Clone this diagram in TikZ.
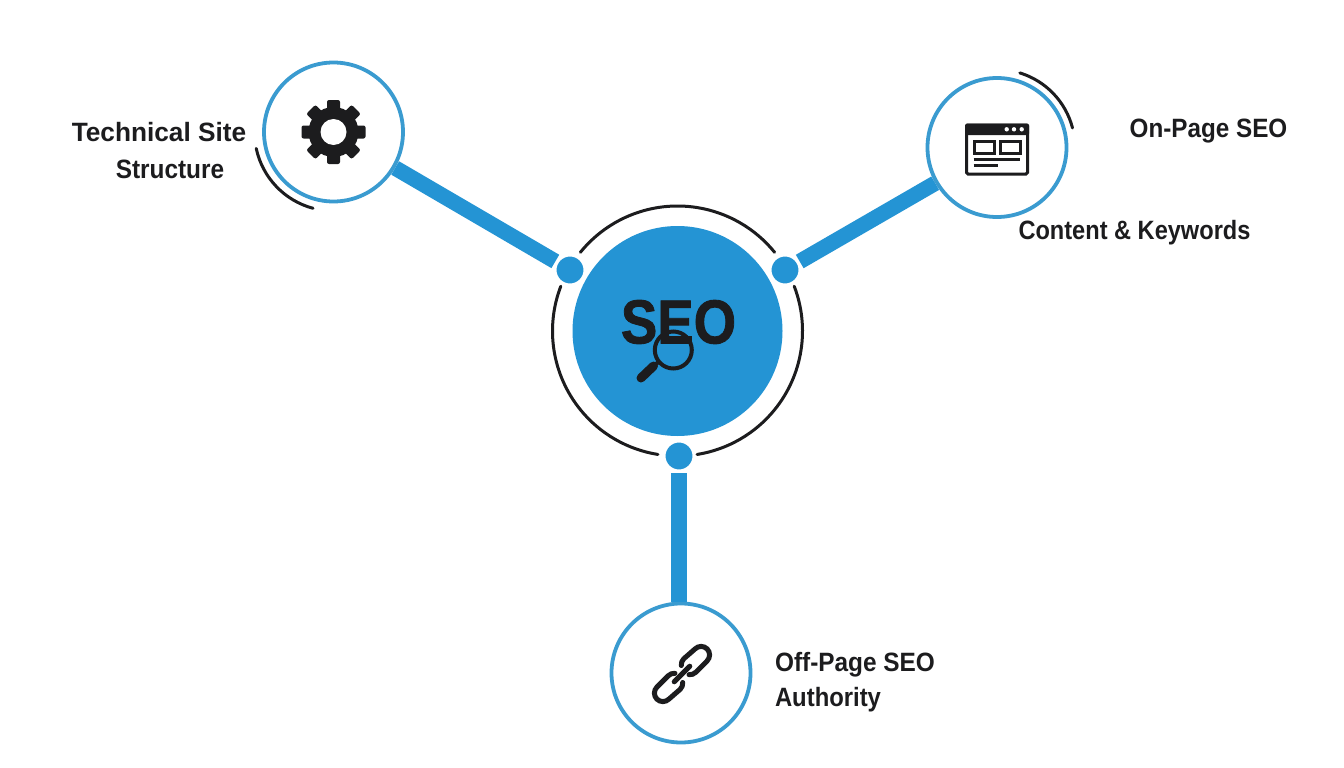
\documentclass[tikz,border=0pt]{standalone}
\usepackage{fontspec}
\setmainfont{Liberation Sans}
\newfontface\seoface[FakeBold=1.4]{Liberation Sans Bold}
\usetikzlibrary{positioning}
\definecolor{seoblue}{HTML}{2494D4}
\definecolor{ringblue}{HTML}{3A9BD0}
\definecolor{inkblack}{HTML}{1C1C1E}
\tikzset{
  pillar/.style={circle,draw=ringblue,line width=3.8pt,fill=white,minimum size=139pt,inner sep=0pt},
  hub/.style={circle,fill=seoblue,minimum size=210pt,inner sep=0pt},
  joint/.style={circle,fill=seoblue,draw=white,line width=3.5pt,minimum size=30.5pt,inner sep=0pt},
  spoke/.style={seoblue,line width=15.5pt},
  ringarc/.style={inkblack,line width=3pt,line cap=round},
  iconline/.style={inkblack,line width=3pt},
  chainlink/.style={inkblack,line width=5pt,line cap=round},
  caption/.style={inkblack,font=\fontsize{26.5}{30}\selectfont\bfseries,inner sep=0pt,anchor=base}
}
\begin{document}
\begin{tikzpicture}[x=1pt,y=1pt]
  \useasboundingbox (0,-768) rectangle (1344,0);
  \fill[white] (0,-768) rectangle (1344,0);

  \node[hub] (seo) at (677.5,-331) {};
  \node[pillar] (site) at (333.5,-132) {};
  \node[pillar] (onpage) at (997,-147.5) {};
  \node[pillar] (offpage) at (681,-673) {};
  \node[joint] (jleft) at (570,-270) {};
  \node[joint] (jright) at (785,-270) {};
  \node[joint] (jdown) at (679,-456) {};

  \draw[spoke] (site) -- (jleft); % gear -> hub
  \draw[spoke] (onpage) -- (jright); % window -> hub
  \draw[spoke] (jdown.south) -- (jdown.south |- offpage.north); % hub -> chain

  % ring around the hub
  \draw[ringarc] ([shift={(141:125pt)}]seo.center) arc[start angle=141,end angle=39,radius=125pt];
  \draw[ringarc] ([shift={(159:125pt)}]seo.center) arc[start angle=159,end angle=261,radius=125pt];
  \draw[ringarc] ([shift={(21:125pt)}]seo.center) arc[start angle=21,end angle=-81,radius=125pt];
  % small arcs at the pillars
  \draw[ringarc] ([shift={(192:79pt)}]site.center) arc[start angle=192,end angle=255,radius=79pt];
  \draw[ringarc] ([shift={(73:78pt)}]onpage.center) arc[start angle=73,end angle=14.5,radius=78pt];

  % hub text and lens
  \node[inkblack,inner sep=0pt,font=\fontsize{62}{62}\seoface,xscale=0.88] (seotext) at (678.5,-322) {SEO};
  \coordinate (lens) at (673.3,-350);
  \draw[inkblack,line width=4pt] (lens) circle[radius=18.5pt];
  \draw[inkblack,line width=4pt] (lens) ++(-141:18.5pt) -- ++(-141:7pt) coordinate (neck);
  \draw[inkblack,line width=9pt,line cap=round] (neck) -- (641,-378);

  % gear
  \fill[inkblack] (site.center) circle[radius=25pt];
  \foreach \a in {0,45,...,315}
    \fill[inkblack,rotate around={\a:(site.center)},rounded corners=2pt] ([shift={(14pt,-6.5pt)}]site.center) rectangle ++(18pt,13pt);
  \fill[white] (site.center) circle[radius=13pt];

  % window
  \draw[iconline,rounded corners=1.5pt] (966.5,-125) rectangle (1027.5,-174);
  \fill[inkblack,rounded corners=1.5pt] (965,-123.5) rectangle (1029,-135);
  \foreach \x in {1006.7,1014,1021.7}
    \fill[white] (\x,-129.3) circle[radius=2.2pt];
  \draw[iconline] (974.5,-141) rectangle (994,-153);
  \draw[iconline] (1000.5,-141) rectangle (1020,-153);
  \draw[iconline] (973.7,-159) -- (1020,-159);
  \draw[iconline] (973.7,-165.8) -- (998.3,-165.8);

  % chain
  \begin{scope}[shift={(682,-674)},rotate=45]
    \draw[chainlink] (5.5,6.5) arc[start angle=140,end angle=90,radius=8.5] -- (27,8.5) arc[start angle=90,end angle=-90,radius=8.5] -- (11,-8.5) arc[start angle=270,end angle=220,radius=8.5];
    \draw[chainlink] (-5.5,-6.5) arc[start angle=-40,end angle=-90,radius=8.5] -- (-27,-8.5) arc[start angle=270,end angle=90,radius=8.5] -- (-11,8.5) arc[start angle=90,end angle=40,radius=8.5];
    \draw[chainlink] (-11,0) -- (11,0);
  \end{scope}

  % captions
  \node[caption,xscale=0.99] (tsite) at (159,-141) {Technical Site};
  \node[caption,xscale=0.92] (tstruct) at (170,-178) {Structure};
  \node[caption,xscale=0.915] (ton) at (1208.5,-137) {On-Page SEO};
  \node[caption,xscale=0.89] (tcontent) at (1134.5,-239) {Content \& Keywords};
  \node[caption,xscale=0.92] (toff) at (855,-671) {Off-Page SEO};
  \node[caption,xscale=0.9] (tauth) at (828,-706) {Authority};
\end{tikzpicture}
\end{document}
